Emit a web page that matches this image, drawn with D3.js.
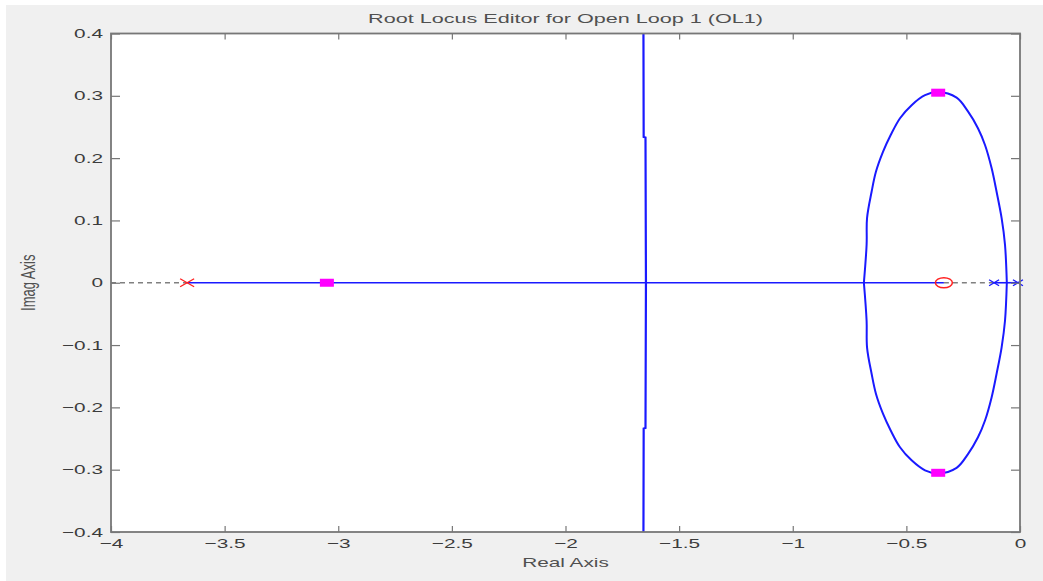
<!DOCTYPE html>
<html>
<head>
<meta charset="utf-8">
<script src="https://cdn.jsdelivr.net/npm/d3@7"></script>
<style>
  body { margin: 0; background: #fff; }
  svg { display: block; font-family: "Liberation Sans", Arial, sans-serif; }
</style>
</head>
<body>
<svg id="chart" width="1043" height="581"></svg>
<script>
// axis ticks
var xTicks = [-4, -3.5, -3, -2.5, -2, -1.5, -1, -0.5, 0];
var xTickLabels = ["\u22124", "\u22123.5", "\u22123", "\u22122.5", "\u22122", "\u22121.5", "\u22121", "\u22120.5", "0"];
var yTicks = [-0.4, -0.3, -0.2, -0.1, 0, 0.1, 0.2, 0.3, 0.4];
var yTickLabels = ["\u22120.4", "\u22120.3", "\u22120.2", "\u22120.1", "0", "0.1", "0.2", "0.3", "0.4"];

// open loop poles / zeros (real axis)
var compensatorPoles = [-3.665];
var compensatorZeros = [-0.335];
var plantPoles = [-0.114, -0.009];

// closed loop poles [re, im]
var closedLoopPoles = [[-3.05, 0], [-0.36, 0.305], [-0.36, -0.305]];

// locus on the real axis [from, to]
var realAxisBranches = [[-3.665, -0.335], [-0.114, -0.009]];
var dashedSegments = [[-4, -3.665], [-0.335, -0.114]];

// vertical branch [re, im]
var verticalBranch = [[-1.657, 0.4], [-1.656, 0.234], [-1.648, 0.233], [-1.646, 0],
  [-1.648, -0.233], [-1.656, -0.234], [-1.657, -0.4]];

// complex loop, upper and lower halves [re, im]
var loopUpper = [[-0.687, 0], [-0.675, 0.061], [-0.673, 0.104], [-0.653, 0.146], [-0.634, 0.178],
  [-0.603, 0.210], [-0.569, 0.237], [-0.528, 0.264], [-0.477, 0.285], [-0.418, 0.301],
  [-0.361, 0.306], [-0.279, 0.297], [-0.229, 0.275], [-0.185, 0.248], [-0.154, 0.221],
  [-0.125, 0.184], [-0.103, 0.146], [-0.081, 0.104], [-0.066, 0.061], [-0.058, 0]];
var loopLower = [[-0.687, 0], [-0.675, -0.061], [-0.673, -0.104], [-0.653, -0.146], [-0.634, -0.178],
  [-0.603, -0.210], [-0.569, -0.237], [-0.528, -0.264], [-0.477, -0.285], [-0.418, -0.301],
  [-0.361, -0.306], [-0.279, -0.297], [-0.229, -0.275], [-0.185, -0.248], [-0.154, -0.221],
  [-0.125, -0.184], [-0.103, -0.146], [-0.081, -0.104], [-0.066, -0.061], [-0.058, 0]];

var stretch = 1.6;
var plotLeft = 111, plotRight = 1020, plotTop = 33.5, plotBottom = 532;

var svg = d3.select("#chart");

// figure background
svg.append("rect")
  .attr("x", 6).attr("y", 5)
  .attr("width", 1043 - 6).attr("height", 581 - 5)
  .attr("fill", "#f0f0f0");

svg.append("rect")
  .attr("x", plotLeft).attr("y", plotTop)
  .attr("width", plotRight - plotLeft).attr("height", plotBottom - plotTop)
  .attr("fill", "#fff");

var xScale = d3.scaleLinear().domain([-4, 0]).range([plotLeft, plotRight]);
var yScale = d3.scaleLinear().domain([-0.4, 0.4]).range([plotBottom, plotTop]);

var line = d3.line()
  .x(function(d) { return xScale(d[0]); })
  .y(function(d) { return yScale(d[1]); });

var smoothLine = d3.line()
  .x(function(d) { return xScale(d[0]); })
  .y(function(d) { return yScale(d[1]); })
  .curve(d3.curveCatmullRom);

// dashed parts of the real axis
svg.selectAll(".dash")
  .data(dashedSegments)
  .enter()
  .append("line")
  .attr("x1", function(d) { return xScale(d[0]); })
  .attr("x2", function(d) { return xScale(d[1]); })
  .attr("y1", yScale(0))
  .attr("y2", yScale(0))
  .attr("stroke", "#808080")
  .attr("stroke-width", 1.3)
  .attr("stroke-dasharray", "5,4");

// real axis branches
svg.selectAll(".branch")
  .data(realAxisBranches)
  .enter()
  .append("line")
  .attr("x1", function(d) { return xScale(d[0]); })
  .attr("x2", function(d) { return xScale(d[1]); })
  .attr("y1", yScale(0))
  .attr("y2", yScale(0))
  .attr("stroke", "#1a1aff")
  .attr("stroke-width", 1.6);

// vertical branch
svg.append("path")
  .attr("d", line(verticalBranch))
  .attr("fill", "none")
  .attr("stroke", "#1a1aff")
  .attr("stroke-width", 2.2);

// complex loop
[loopUpper, loopLower].forEach(function(pts) {
  svg.append("path")
    .attr("d", smoothLine(pts))
    .attr("fill", "none")
    .attr("stroke", "#1a1aff")
    .attr("stroke-width", 2);
});

// compensator pole (red x)
compensatorPoles.forEach(function(p) {
  var cx = xScale(p), cy = yScale(0);
  svg.append("path")
    .attr("d", "M" + (cx - 7) + "," + (cy - 4) + "L" + (cx + 7) + "," + (cy + 4) +
      "M" + (cx - 7) + "," + (cy + 4) + "L" + (cx + 7) + "," + (cy - 4))
    .attr("stroke", "#ff2020")
    .attr("stroke-width", 1.4);
});

// compensator zero (red o)
svg.selectAll(".zero")
  .data(compensatorZeros)
  .enter()
  .append("ellipse")
  .attr("cx", function(d) { return xScale(d); })
  .attr("cy", yScale(0))
  .attr("rx", 8.5)
  .attr("ry", 5)
  .attr("fill", "none")
  .attr("stroke", "#ff2020")
  .attr("stroke-width", 1.5);

// plant poles (blue x)
plantPoles.forEach(function(p) {
  var cx = xScale(p), cy = yScale(0);
  svg.append("path")
    .attr("d", "M" + (cx - 5) + "," + (cy - 3) + "L" + (cx + 5) + "," + (cy + 3) +
      "M" + (cx - 5) + "," + (cy + 3) + "L" + (cx + 5) + "," + (cy - 3))
    .attr("stroke", "#1a1aff")
    .attr("stroke-width", 1.4);
});

// closed loop poles (magenta squares)
svg.selectAll(".clp")
  .data(closedLoopPoles)
  .enter()
  .append("rect")
  .attr("x", function(d) { return xScale(d[0]) - 7; })
  .attr("y", function(d) { return yScale(d[1]) - 4; })
  .attr("width", 14)
  .attr("height", 8)
  .attr("fill", "#ff00ff");

// axes
var axisColor = "#777";

function styleAxis(g) {
  g.select(".domain").remove();
  g.selectAll(".tick line").attr("stroke", axisColor).attr("stroke-width", 1.2);
}

var xAxis = d3.axisBottom(xScale)
  .tickValues(xTicks)
  .tickSizeInner(-6)
  .tickSizeOuter(0)
  .tickPadding(7)
  .tickFormat(function(d, i) { return xTickLabels[i]; });

svg.append("g")
  .attr("transform", "translate(0," + plotBottom + ")")
  .call(xAxis)
  .call(styleAxis)
  .selectAll("text")
  .attr("transform", "scale(" + stretch + ",1)");

svg.append("g")
  .attr("transform", "translate(0," + plotTop + ")")
  .call(d3.axisTop(xScale).tickValues(xTicks).tickSizeInner(-6).tickSizeOuter(0).tickFormat(""))
  .call(styleAxis);

var yAxis = d3.axisLeft(yScale)
  .tickValues(yTicks)
  .tickSizeInner(-9)
  .tickSizeOuter(0)
  .tickPadding(5)
  .tickFormat(function(d, i) { return yTickLabels[i]; });

svg.append("g")
  .attr("transform", "translate(" + plotLeft + ",0)")
  .call(yAxis)
  .call(styleAxis)
  .selectAll("text")
  .attr("transform", "scale(" + stretch + ",1)");

svg.append("g")
  .attr("transform", "translate(" + plotRight + ",0)")
  .call(d3.axisRight(yScale).tickValues(yTicks).tickSizeInner(-9).tickSizeOuter(0).tickFormat(""))
  .call(styleAxis);

svg.selectAll(".tick text")
  .attr("font-family", "Liberation Sans, Arial, sans-serif")
  .attr("font-size", 13)
  .attr("fill", "#3c3c3c");

// frame
svg.append("rect")
  .attr("x", plotLeft).attr("y", plotTop)
  .attr("width", plotRight - plotLeft).attr("height", plotBottom - plotTop)
  .attr("fill", "none")
  .attr("stroke", axisColor)
  .attr("stroke-width", 1.8);

// titles
svg.append("text")
  .attr("transform", "translate(" + (plotLeft + plotRight) / 2 + ",23) scale(" + stretch + ",1)")
  .attr("text-anchor", "middle")
  .attr("font-size", 13.5)
  .attr("fill", "#505050")
  .text("Root Locus Editor for Open Loop 1 (OL1)");

svg.append("text")
  .attr("transform", "translate(" + (plotLeft + plotRight) / 2 + ",567) scale(" + stretch + ",1)")
  .attr("text-anchor", "middle")
  .attr("font-size", 13)
  .attr("fill", "#505050")
  .text("Real Axis");

svg.append("text")
  .attr("transform", "translate(35," + (plotTop + plotBottom) / 2 + ") scale(" + stretch + ",1) rotate(-90)")
  .attr("text-anchor", "middle")
  .attr("font-size", 13)
  .attr("fill", "#505050")
  .text("Imag Axis");
</script>
</body>
</html>
